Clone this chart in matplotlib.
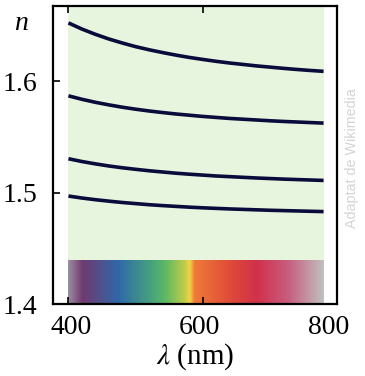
import numpy as np
import matplotlib
matplotlib.use("Agg")
import matplotlib.pyplot as plt
import matplotlib.transforms as mtransforms
from matplotlib.colors import LinearSegmentedColormap

plt.rcParams['font.family'] = ['Liberation Serif', 'DejaVu Serif']
plt.rcParams['mathtext.fontset'] = 'stix'

wavelength = [400, 420, 440, 460, 480, 500, 520, 540, 560, 580, 600,
              620, 640, 660, 680, 700, 720, 740, 760, 780]
n_glass1 = [1.6525, 1.6470, 1.6423, 1.6381, 1.6345, 1.6312, 1.6284, 1.6259, 1.6236, 1.6215,
            1.6197, 1.6180, 1.6165, 1.6152, 1.6139, 1.6128, 1.6117, 1.6107, 1.6098, 1.6090]
n_glass2 = [1.5870, 1.5839, 1.5812, 1.5789, 1.5768, 1.5750, 1.5734, 1.5720, 1.5707, 1.5696,
            1.5685, 1.5676, 1.5667, 1.5660, 1.5653, 1.5646, 1.5640, 1.5635, 1.5630, 1.5625]
n_glass3 = [1.5305, 1.5280, 1.5259, 1.5240, 1.5224, 1.5210, 1.5197, 1.5186, 1.5175, 1.5166,
            1.5158, 1.5150, 1.5144, 1.5138, 1.5132, 1.5127, 1.5122, 1.5118, 1.5114, 1.5110]
n_glass4 = [1.4970, 1.4952, 1.4937, 1.4924, 1.4912, 1.4902, 1.4892, 1.4884, 1.4877, 1.4870,
            1.4864, 1.4859, 1.4854, 1.4850, 1.4846, 1.4842, 1.4839, 1.4836, 1.4833, 1.4830]

x_ticks = [400, 600, 800]
y_ticks = [1.4, 1.5, 1.6]
y_tick_labels = ['1.4', '1.5', '1.6']

spectrum_nm = [400, 421, 474, 521, 544, 573, 581, 588, 640, 681, 729, 780]
spectrum_colors = ['#9c8ca2', '#703a70', '#3068a8', '#45a080', '#5cb865', '#c0cc48',
                   '#f2d448', '#ee7a38', '#e04c38', '#d0304a', '#c86080', '#c0c0c0']

fig = plt.figure(figsize=(3.65, 3.76), dpi=100)
ax = fig.add_axes([53/365, 1-304/376, (337-53)/365, (304-6)/376])

ax.set_xlim(377, 800)
ax.set_ylim(1.4, 1.6677)

# background visible band
ax.fill_between([400, 780], 1.439, 1.6677, color='#e8f5de', lw=0, zorder=0)

# spectrum strip
pos = [(v - spectrum_nm[0]) / (spectrum_nm[-1] - spectrum_nm[0]) for v in spectrum_nm]
cmap = LinearSegmentedColormap.from_list('spec', list(zip(pos, spectrum_colors)))
grad = np.linspace(0, 1, 512)[None, :]
ax.imshow(grad, cmap=cmap, aspect='auto', extent=(400, 780, 1.4, 1.439),
          interpolation='bilinear', zorder=1)

for ys in (n_glass1, n_glass2, n_glass3, n_glass4):
    ax.plot(wavelength, ys, color='#0b0b3b', lw=2.6, solid_capstyle='butt', zorder=3)

ax.set_xticks(x_ticks)
ax.set_yticks(y_ticks)
ax.set_yticklabels(y_tick_labels)
ax.tick_params(direction='in', length=5, width=1.2, labelsize=20,
               top=True, right=False)
ax.tick_params(axis='y', pad=11)
ax.tick_params(axis='x', pad=8)
for s in ax.spines.values():
    s.set_linewidth(1.6)

# small horizontal offsets of the x tick labels as in the reference
for lab, dx in zip(ax.get_xticklabels(), [3, -3, -8]):
    lab.set_transform(lab.get_transform() +
                      mtransforms.ScaledTranslation(dx/100, 0, fig.dpi_scale_trans))

ax.set_xlabel(r'$\lambda$ (nm)', fontsize=21, labelpad=1)
fig.text(21/365, 1-24/376, 'n', fontsize=20, style='italic', ha='center', va='center')

fig.text(352/365, 1-158/376, 'Adaptat de Wikimedia', rotation=90, fontsize=10.3,
         family='Liberation Sans', color='#d4d4d4', ha='center', va='center')

fig.savefig('out.png', dpi=100)
